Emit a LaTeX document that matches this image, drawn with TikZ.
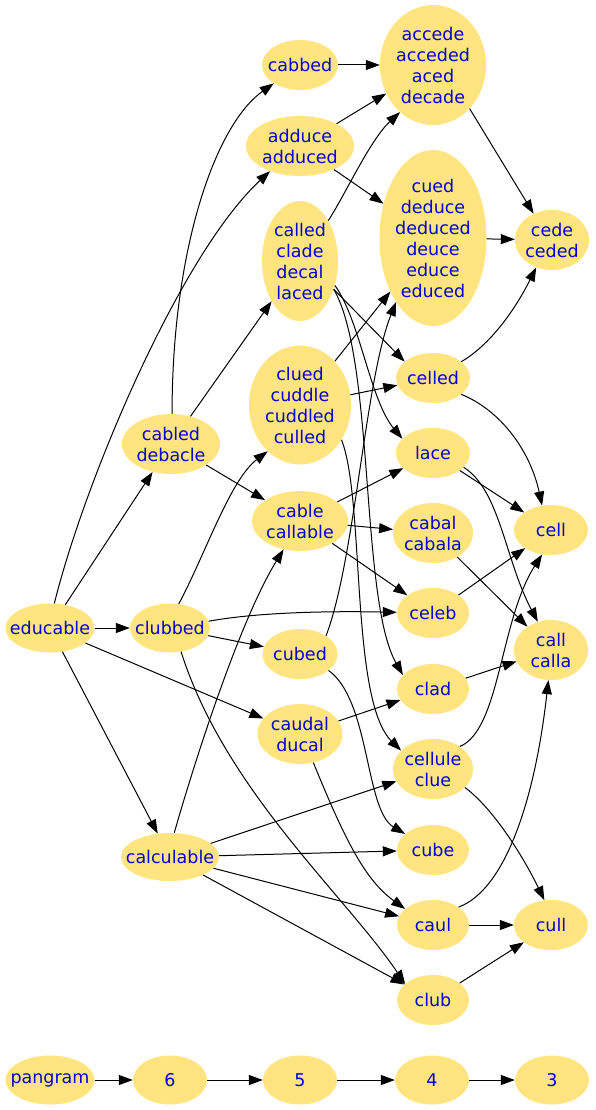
\documentclass[tikz,border=0pt]{standalone}
\usepackage{fontspec}
\setmainfont{DejaVu Sans}
\usetikzlibrary{shapes.geometric,arrows.meta}
\definecolor{nfill}{RGB}{255,228,128}
\definecolor{ntext}{RGB}{0,0,215}
\newcommand\mkvert[5]{\node[vert,minimum width=#3pt,minimum height=#4pt,label={center:{#5}}] (#1) at #2 {};}
\begin{document}
\begin{tikzpicture}[x=1pt,y=-1pt,
  vert/.style={ellipse, fill=nfill, draw=none, inner sep=0pt},
  every label/.style={text=ntext, align=center, font=\fontsize{17.5}{21}\selectfont, inner sep=0pt},
  edge/.style={draw=black, line width=1pt, -{Triangle[length=14pt,width=10pt]}},
]
\fill[white] (0,0) rectangle (595,1110);
\useasboundingbox (0,0) rectangle (595,1110);

\mkvert{educable}{(50,628)}{89}{49}{educable}
\mkvert{pangram}{(50,1080)}{89}{49}{pangram}
\mkvert{n6}{(170,1080)}{74}{49}{6}
\mkvert{n5}{(300,1080)}{74}{49}{5}
\mkvert{n4}{(432,1080)}{74}{49}{4}
\mkvert{n3}{(552,1080)}{74}{49}{3}
\mkvert{cabled}{(171,444)}{98}{60}{cabled\\debacle}
\mkvert{clubbed}{(170,628)}{80}{49}{clubbed}
\mkvert{calculable}{(170,857)}{98}{48}{calculable}
\mkvert{cabbed}{(300,65)}{76}{50}{cabbed}
\mkvert{adduce}{(300,146)}{108}{60}{adduce\\adduced}
\mkvert{called}{(300,261)}{76}{120}{called\\clade\\decal\\laced}
\mkvert{clued}{(300,405)}{102}{119}{clued\\cuddle\\cuddled\\culled}
\mkvert{cable}{(300,521)}{96}{60}{cable\\callable}
\mkvert{cubed}{(300,654)}{75}{50}{cubed}
\mkvert{caudal}{(300,734)}{85}{60}{caudal\\ducal}
\mkvert{accede}{(433,65)}{106}{120}{accede\\acceded\\aced\\decade}
\mkvert{cued}{(433,238)}{107}{176}{cued\\deduce\\deduced\\deuce\\educe\\educed}
\mkvert{celled}{(433,378)}{74}{50}{celled}
\mkvert{lace}{(433,453)}{74}{50}{lace}
\mkvert{cabal}{(433,533)}{80}{60}{cabal\\cabala}
\mkvert{celeb}{(433,613)}{72}{50}{celeb}
\mkvert{clad}{(433,689)}{72}{50}{clad}
\mkvert{cellule}{(433,769)}{80}{60}{cellule\\clue}
\mkvert{cube}{(433,850)}{72}{50}{cube}
\mkvert{caul}{(433,925)}{72}{50}{caul}
\mkvert{club}{(433,1000)}{72}{50}{club}
\mkvert{cede}{(552,240)}{74}{60}{cede\\ceded}
\mkvert{cell}{(551,530)}{74}{50}{cell}
\mkvert{call}{(551,650)}{74}{60}{call\\calla}
\mkvert{cull}{(551,925)}{74}{50}{cull}

% educable
\draw[edge] (educable) -- (cabled);
\draw[edge] (educable) -- (clubbed);
\draw[edge] (educable) -- (calculable);
\draw[edge] (educable.80) .. controls (85,480) and (180,255) .. (adduce.220);
\draw[edge] (educable) -- (caudal);
% cabled
\draw[edge] (cabled.88) .. controls (172,250) and (215,125) .. (cabbed.215);
\draw[edge] (cabled) -- (called);
\draw[edge] (cabled) -- (cable);
% clubbed
\draw[edge] (clubbed.70) .. controls (205,555) and (230,480) .. (clued.235);
\draw[edge] (clubbed.10) .. controls (260,612) and (330,611) .. (celeb);
\draw[edge] (clubbed) -- (cubed);
\draw[edge] (clubbed.-65) .. controls (225,790) and (345,895) .. (club.150);
% calculable
\draw[edge] (calculable.80) .. controls (195,760) and (240,620) .. (cable.240);
\draw[edge] (calculable) -- (cellule);
\draw[edge] (calculable) -- (cube);
\draw[edge] (calculable) -- (caul);
\draw[edge] (calculable) -- (club);
% second column
\draw[edge] (cabbed) -- (accede);
\draw[edge] (adduce) -- (accede);
\draw[edge] (adduce) -- (cued);
\draw[edge] (called.55) .. controls (345,195) and (370,140) .. (accede.235);
\draw[edge] (called.-40) -- (celled.150);
\draw[edge] (called.-35) .. controls (360,320) and (370,400) .. (lace.155);
\draw[edge] (called.-40) .. controls (375,360) and (360,600) .. (clad.155);
\draw[edge] (clued) -- (cued);
\draw[edge] (clued) -- (celled);
\draw[edge] (clued.-40) .. controls (365,500) and (350,700) .. (cellule.150);
\draw[edge] (cubed.35) .. controls (355,560) and (365,380) .. (cued.240);
\draw[edge] (cubed.-30) .. controls (370,700) and (365,810) .. (cube.150);
\draw[edge] (cable) -- (lace);
\draw[edge] (cable) -- (cabal);
\draw[edge] (cable) -- (celeb);
\draw[edge] (caudal) -- (clad);
\draw[edge] (caudal.-65) .. controls (345,840) and (365,880) .. (caul.150);
% third column
\draw[edge] (accede.-50) -- (cede.125);
\draw[edge] (cued) -- (cede);
\draw[edge] (celled.30) .. controls (490,345) and (515,310) .. (cede.240);
\draw[edge] (celled.-30) .. controls (500,410) and (530,450) .. (cell.110);
\draw[edge] (lace) -- (cell);
\draw[edge] (lace.-25) .. controls (500,490) and (505,560) .. (call.115);
\draw[edge] (cabal) -- (call);
\draw[edge] (celeb) -- (cell);
\draw[edge] (clad) -- (call);
\draw[edge] (cellule.40) .. controls (500,730) and (500,620) .. (cell.250);
\draw[edge] (cellule.-30) .. controls (495,810) and (525,860) .. (cull.105);
\draw[edge] (caul) -- (cull);
\draw[edge] (caul.35) .. controls (505,890) and (535,800) .. (call.265);
\draw[edge] (club) -- (cull);
% chain
\draw[edge] (pangram) -- (n6);
\draw[edge] (n6) -- (n5);
\draw[edge] (n5) -- (n4);
\draw[edge] (n4) -- (n3);
\end{tikzpicture}
\end{document}
